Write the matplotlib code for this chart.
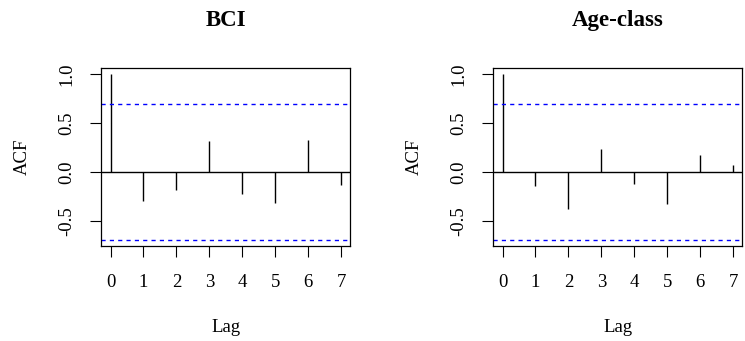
import matplotlib
matplotlib.use("Agg")
import matplotlib.pyplot as plt

# acf values (lags 0..7)
lags = [0, 1, 2, 3, 4, 5, 6, 7]
acf_bci = [1.0, -0.297, -0.184, 0.317, -0.222, -0.317, 0.331, -0.137]
acf_age = [1.0, -0.143, -0.382, 0.235, -0.123, -0.331, 0.174, 0.068]
titles = ["BCI", "Age-class"]
ci = 0.693  # 1.96/sqrt(8)

plt.rcParams['font.family'] = ['Liberation Serif', 'DejaVu Serif']

fig = plt.figure(figsize=(7.45, 3.41), dpi=100)

W, H = 745.0, 341.0
boxes = [(101.3, 350.3), (493.3, 742.2)]
top, bottom = 67.7, 246.3


def acf_panel(ax, vals, title):
    ax.vlines(lags, 0, vals, colors='black', linewidth=1.0)
    ax.axhline(0, color='black', linewidth=1.0)
    ax.axhline(ci, color='blue', linewidth=1.0, linestyle=(0, (3, 3)))
    ax.axhline(-ci, color='blue', linewidth=1.0, linestyle=(0, (3, 3)))
    rng = 1.0 + ci
    ax.set_ylim(-ci - 0.04 * rng, 1.0 + 0.04 * rng)
    ax.set_xlim(-0.28, 7.28)
    ax.set_xticks(lags)
    ax.set_yticks([-0.5, 0.0, 0.5, 1.0])
    ax.set_yticklabels(["-0.5", "0.0", "0.5", "1.0"], rotation=90, va='center')
    ax.tick_params(axis='both', direction='out', length=7.7, width=0.8,
                   labelsize=13.5, color='black')
    ax.tick_params(axis='x', pad=12)
    ax.tick_params(axis='y', pad=11)
    for s in ax.spines.values():
        s.set_linewidth(0.9)
    ax.set_xlabel("Lag", fontsize=13.5, va='center')
    ax.set_ylabel("ACF", fontsize=13.5, va='center')
    ax.xaxis.set_label_coords(0.5, -(328 - bottom) / (bottom - top))
    w = ax.get_position().width * W
    ax.yaxis.set_label_coords(-79.3 / w, 0.5)
    ax.text(0.5, 1 + (top - 20.5) / (bottom - top), title, transform=ax.transAxes,
            ha='center', va='center', fontsize=16.5, fontweight='bold')


for (x0, x1), vals, t in zip(boxes, [acf_bci, acf_age], titles):
    ax = fig.add_axes([x0 / W, 1 - bottom / H, (x1 - x0) / W, (bottom - top) / H])
    acf_panel(ax, vals, t)

fig.savefig("out.png", dpi=100)
